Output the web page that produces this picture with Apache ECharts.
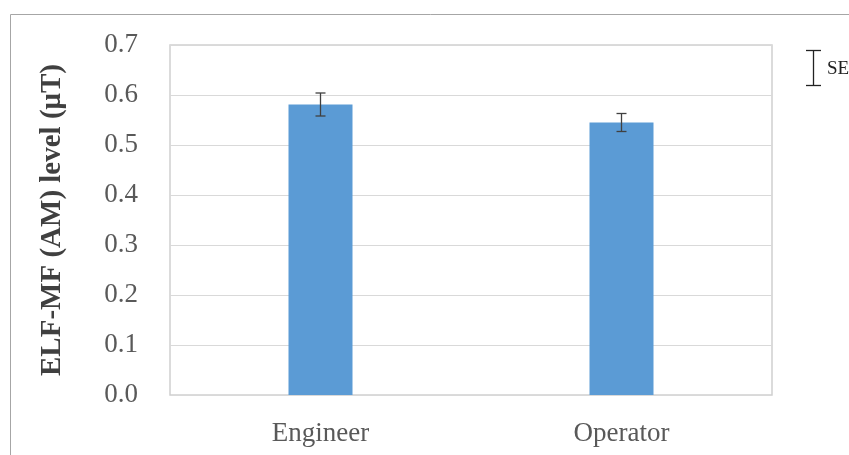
<!DOCTYPE html>
<html>
<head>
<meta charset="utf-8">
<script src="https://cdn.jsdelivr.net/npm/echarts@6/dist/echarts.min.js"></script>
<style>
  html, body { margin: 0; padding: 0; background: #fff; }
  #chart { width: 849px; height: 455px; }
</style>
</head>
<body>
<div id="chart"></div>
<script>
// Mean ELF-MF (AM) exposure by job group, with standard errors
const categories = ['Engineer', 'Operator'];
const meanValues = [0.581, 0.545];
const seValues = [0.023, 0.018];
const yTicks = [0, 0.1, 0.2, 0.3, 0.4, 0.5, 0.6, 0.7];

const serif = '"Liberation Serif", "DejaVu Serif", serif';
const chart = echarts.init(document.getElementById('chart'));

const errorData = categories.map((c, i) => [i, meanValues[i] - seValues[i], meanValues[i] + seValues[i]]);

chart.setOption({
  animation: false,
  grid: { left: 170, top: 45, width: 602, height: 350, show: true, borderColor: '#d0d0d0', borderWidth: 1.5 },
  graphic: [
    // outer chart frame
    { type: 'rect', shape: { x: 10.5, y: 14.5, width: 860, height: 470 }, style: { fill: 'none', stroke: '#a6a6a6', lineWidth: 1 }, silent: true },
    // SE key: error bar glyph
    { type: 'line', shape: { x1: 813.5, y1: 50, x2: 813.5, y2: 85 }, style: { stroke: '#222', lineWidth: 1.3 } },
    { type: 'line', shape: { x1: 806, y1: 50.5, x2: 821, y2: 50.5 }, style: { stroke: '#222', lineWidth: 1.3 } },
    { type: 'line', shape: { x1: 806, y1: 85.5, x2: 821, y2: 85.5 }, style: { stroke: '#222', lineWidth: 1.3 } },
    { type: 'text', left: 827, top: 60, style: { text: 'SE', font: '19px ' + serif, fill: '#222' } }
  ],
  xAxis: {
    type: 'category',
    data: categories,
    axisLine: { show: false },
    axisTick: { show: false },
    axisLabel: { color: '#595959', fontFamily: serif, fontSize: 27, margin: 25 }
  },
  yAxis: {
    type: 'value',
    min: 0, max: 0.7, interval: 0.1,
    name: 'ELF-MF (AM) level (μT)',
    nameLocation: 'middle',
    nameGap: 103,
    nameTextStyle: { color: '#404040', fontFamily: serif, fontSize: 29, fontWeight: 'bold' },
    axisLine: { show: false },
    axisTick: { show: false },
    splitLine: { lineStyle: { color: '#d9d9d9', width: 1 } },
    axisLabel: {
      color: '#595959', fontFamily: serif, fontSize: 27, margin: 32,
      formatter: v => v.toFixed(1)
    }
  },
  series: [
    {
      type: 'bar',
      data: meanValues,
      barWidth: 64,
      itemStyle: { color: '#5b9bd5' },
      z: 2
    },
    {
      type: 'custom',
      data: errorData,
      z: 3,
      renderItem: (params, api) => {
        const x = api.coord([api.value(0), 0])[0];
        const lo = api.coord([api.value(0), api.value(1)])[1];
        const hi = api.coord([api.value(0), api.value(2)])[1];
        const half = 5;
        const st = { stroke: '#404040', lineWidth: 1.3 };
        return {
          type: 'group',
          children: [
            { type: 'line', shape: { x1: x, y1: hi, x2: x, y2: lo }, style: st },
            { type: 'line', shape: { x1: x - half, y1: hi, x2: x + half, y2: hi }, style: st },
            { type: 'line', shape: { x1: x - half, y1: lo, x2: x + half, y2: lo }, style: st }
          ]
        };
      }
    }
  ]
});
</script>
</body>
</html>
